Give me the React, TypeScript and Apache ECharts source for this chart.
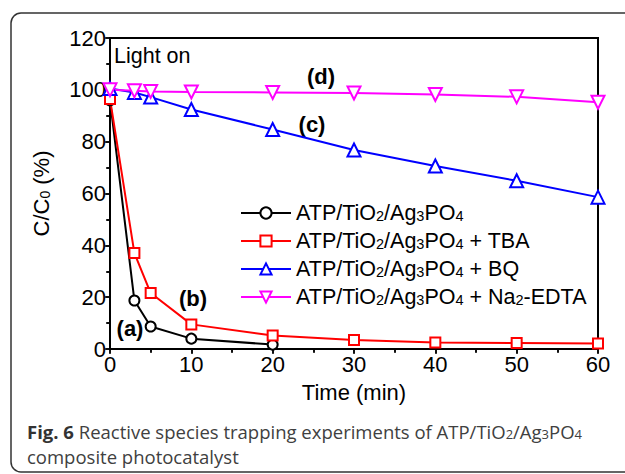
import React, { useEffect, useRef } from "react";
import * as echarts from "echarts";

const timeMin = [0, 3, 5, 10, 20, 30, 40, 50, 60];
const seriesA = [96, 18.7, 8.7, 4.0, 1.7];
const seriesB = [96.5, 37.0, 21.6, 9.5, 5.2, 3.5, 2.5, 2.3, 2.1];
const seriesC = [100.5, 99, 97.2, 92.4, 84.7, 76.8, 70.6, 64.9, 58.6];
const seriesD = [100, 99.6, 99.4, 99.2, 99.0, 98.8, 98.2, 97.3, 95.2];
const legendNames = [
  "ATP/TiO2/Ag3PO4",
  "ATP/TiO2/Ag3PO4 + TBA",
  "ATP/TiO2/Ag3PO4 + BQ",
  "ATP/TiO2/Ag3PO4 + Na2-EDTA",
];
const xTicks = [0, 10, 20, 30, 40, 50, 60];
const yTicks = [0, 20, 40, 60, 80, 100, 120];

const FONT = "'Liberation Sans', Arial, sans-serif";
const CAP = "'Open Sans', sans-serif";

function pairs(vals: number[]) {
  return vals.map((v, i) => [timeMin[i], v]);
}

function richName(n: string) {
  return n
    .replace("TiO2", "TiO{s|2}")
    .replace("Ag3", "Ag{s|3}")
    .replace("PO4", "PO{s|4}")
    .replace("Na2", "Na{s|2}");
}

export default function App() {
  const ref = useRef<HTMLDivElement>(null);
  useEffect(() => {
    if (!ref.current) return;
    const chart = echarts.init(ref.current, undefined, { renderer: "svg" });
    const lineSeries = (
      name: string,
      vals: number[],
      color: string,
      symbol: string,
      size: number,
      rotate = 0
    ) => ({
      name,
      type: "line",
      data: pairs(vals),
      color,
      symbol,
      symbolSize: size,
      symbolRotate: rotate,
      showAllSymbol: true,
      lineStyle: { width: 2, color },
      itemStyle: { color, borderWidth: 1.6 },
      z: 3,
    });
    chart.setOption({
      animation: false,
      grid: {
        left: 110,
        right: 27,
        top: 38,
        bottom: 125,
        show: true,
        borderColor: "#000",
        borderWidth: 2,
        backgroundColor: "transparent",
      },
      legend: {
        orient: "vertical",
        left: 235,
        top: 197,
        itemWidth: 50,
        itemHeight: 14,
        itemGap: 6,
        data: legendNames,
        formatter: (n: string) => richName(n),
        textStyle: {
          fontFamily: FONT,
          fontSize: 21.5,
          color: "#000",
          lineHeight: 20,
          rich: {
            s: { fontSize: 14.5, fontFamily: FONT, color: "#000", verticalAlign: "bottom", lineHeight: 20 },
          },
        },
      },
      xAxis: [
        {
          type: "value",
          min: 0,
          max: 60,
          interval: 10,
          position: "bottom",
          name: "Time (min)",
          nameLocation: "middle",
          nameGap: 32,
          nameTextStyle: { fontFamily: FONT, fontSize: 22, color: "#000" },
          axisLine: { show: true, lineStyle: { color: "#000", width: 2 } },
          axisTick: { show: true, inside: false, length: 5, lineStyle: { width: 1.5, color: "#000" } },
          minorTick: { show: true, splitNumber: 2, length: 3, lineStyle: { width: 1.5, color: "#000" } },
          axisLabel: { fontFamily: FONT, fontSize: 22, color: "#000", margin: 4, formatter: (v: number) => (xTicks.includes(v) ? String(v) : "") },
          splitLine: { show: false },
        },
        {
          type: "value",
          min: 0,
          max: 60,
          interval: 5,
          position: "top",
          axisLine: { show: true, lineStyle: { color: "#000", width: 2 } },
          axisTick: { show: true, inside: true, length: 4, lineStyle: { width: 1.5, color: "#000" } },
          axisLabel: { show: false },
          splitLine: { show: false },
        },
      ],
      yAxis: [
        {
          type: "value",
          min: 0,
          max: 120,
          interval: 20,
          position: "left",
          name: "C/C{s|0} (%)",
          nameLocation: "middle",
          nameGap: 58,
          nameRotate: 90,
          nameTextStyle: {
            fontFamily: FONT,
            fontSize: 22,
            color: "#000",
            rich: { s: { fontSize: 14, fontFamily: FONT, color: "#000", verticalAlign: "bottom", padding: [8, 0, 0, 0] } },
          },
          axisLine: { show: true, lineStyle: { color: "#000", width: 2 } },
          axisTick: { show: true, inside: false, length: 5, lineStyle: { width: 1.5, color: "#000" } },
          minorTick: { show: true, splitNumber: 2, length: 3, lineStyle: { width: 1.5, color: "#000" } },
          axisLabel: { fontFamily: FONT, fontSize: 22, color: "#000", margin: 4, formatter: (v: number) => (yTicks.includes(v) ? String(v) : "") },
          splitLine: { show: false },
        },
        {
          type: "value",
          min: 0,
          max: 120,
          interval: 10,
          position: "right",
          axisLine: { show: true, lineStyle: { color: "#000", width: 2 } },
          axisTick: { show: true, inside: true, length: 4, lineStyle: { width: 1.5, color: "#000" } },
          axisLabel: { show: false },
          splitLine: { show: false },
        },
      ],
      series: [
        lineSeries(legendNames[0], seriesA, "#000000", "emptyCircle", 10),
        lineSeries(legendNames[1], seriesB, "#ff0000", "emptyRect", 10),
        lineSeries(legendNames[2], seriesC, "#0000ff", "emptyTriangle", 13),
        lineSeries(legendNames[3], seriesD, "#ff00ff", "emptyTriangle", 13, 180),
      ],
      graphic: [
        {
          type: "rect",
          z: -10,
          silent: true,
          shape: { x: 11, y: 13, width: 700, height: 459, r: 10 },
          style: { fill: "none", stroke: "#333", lineWidth: 1.5 },
        },
        {
          type: "text",
          left: 114,
          top: 45,
          style: { text: "Light on", font: `21.5px ${FONT}`, fill: "#000" },
        },
        { type: "text", x: 321, y: 76, style: { text: "(d)", font: `bold 22px ${FONT}`, fill: "#000", align: "center", verticalAlign: "middle" } },
        { type: "text", x: 312, y: 124, style: { text: "(c)", font: `bold 22px ${FONT}`, fill: "#000", align: "center", verticalAlign: "middle" } },
        { type: "text", x: 193, y: 298, style: { text: "(b)", font: `bold 22px ${FONT}`, fill: "#000", align: "center", verticalAlign: "middle" } },
        { type: "text", x: 130, y: 328, style: { text: "(a)", font: `bold 22px ${FONT}`, fill: "#000", align: "center", verticalAlign: "middle" } },
        {
          type: "text",
          x: 27,
          y: 431,
          style: {
            text: "{b|Fig. 6} Reactive species trapping experiments of ATP/TiO{s|2}/Ag{s|3}PO{s|4}",
            fontFamily: CAP,
            fontSize: 18.5,
            fill: "#404040",
            verticalAlign: "middle",
            rich: {
              b: { fontFamily: CAP, fontSize: 18.5, fontWeight: "bold", fill: "#333" },
              s: { fontFamily: CAP, fontSize: 13, fill: "#404040", verticalAlign: "bottom", padding: [6, 0, 0, 0] },
            },
          },
        },
        {
          type: "text",
          x: 27,
          y: 456,
          style: {
            text: "composite photocatalyst",
            fontFamily: CAP,
            fontSize: 18.5,
            fill: "#404040",
            verticalAlign: "middle",
          },
        },
      ],
    });
    return () => chart.dispose();
  }, []);
  return (
    <div
      ref={ref}
      style={{ position: "fixed", left: 0, top: 0, width: 625, height: 474, background: "#fff" }}
    />
  );
}
